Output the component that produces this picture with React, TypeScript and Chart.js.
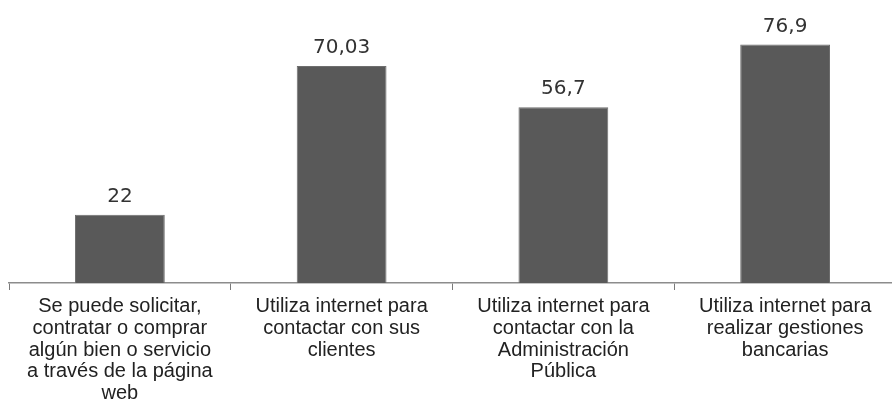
import React, { useEffect, useRef } from "react";
import { Chart, registerables } from "chart.js";

Chart.register(...registerables);

const categories: string[][] = [
  ["Se puede solicitar,", "contratar o comprar", "algún bien o servicio", "a través de la página", "web"],
  ["Utiliza internet para", "contactar con sus", "clientes"],
  ["Utiliza internet para", "contactar con la", "Administración", "Pública"],
  ["Utiliza internet para", "realizar gestiones", "bancarias"],
];
const values: number[] = [22, 70.03, 56.7, 76.9];
const valueLabels: string[] = ["22", "70,03", "56,7", "76,9"];

const valueLabelPlugin = {
  id: "valueLabels",
  afterDatasetsDraw(chart: any) {
    const ctx = chart.ctx;
    const meta = chart.getDatasetMeta(0);
    ctx.save();
    ctx.font = '20px "DejaVu Sans"';
    ctx.fillStyle = "#333333";
    ctx.textAlign = "center";
    ctx.textBaseline = "alphabetic";
    meta.data.forEach((bar: any, i: number) => {
      ctx.fillText(valueLabels[i], bar.x, bar.y - 13);
    });
    ctx.restore();
  },
};

export default function App() {
  const canvasRef = useRef<HTMLCanvasElement | null>(null);

  useEffect(() => {
    document.documentElement.style.overflow = "hidden";
    document.body.style.overflow = "hidden";
    document.body.style.margin = "0";
    const canvas = canvasRef.current;
    if (!canvas) return;
    const chart = new Chart(canvas, {
      type: "bar",
      data: {
        labels: categories,
        datasets: [
          {
            data: values,
            backgroundColor: "#595959",
            borderColor: "#6e6e6e",
            borderWidth: 1,
            barPercentage: 0.81,
            categoryPercentage: 0.5,
          },
        ],
      },
      plugins: [valueLabelPlugin],
      options: {
        animation: false,
        responsive: true,
        maintainAspectRatio: false,
        layout: { padding: { top: 4, left: 9, right: 4, bottom: 0 } },
        plugins: {
          legend: { display: false },
          tooltip: { enabled: false },
          title: { display: false },
        },
        scales: {
          y: {
            display: false,
            min: 0,
            max: 90,
          },
          x: {
            offset: true,
            grid: {
              offset: true,
              drawOnChartArea: false,
              drawTicks: true,
              tickLength: 7,
              color: "#7a7a7a",
              lineWidth: 1,
            },
            border: { display: true, color: "#8c8c8c", width: 1.5 },
            ticks: {
              autoSkip: false,
              maxRotation: 0,
              minRotation: 0,
              padding: 6,
              color: "#222222",
              font: { family: '"Liberation Sans", Arial, sans-serif', size: 20, lineHeight: 1.085 },
            },
            afterFit(scale: any) {
              scale.height = 128;
            },
          },
        },
      },
    });
    return () => chart.destroy();
  }, []);

  return (
    <div style={{ position: "absolute", left: 0, top: 0, width: 900, height: 411 }}>
      <canvas ref={canvasRef} />
    </div>
  );
}
